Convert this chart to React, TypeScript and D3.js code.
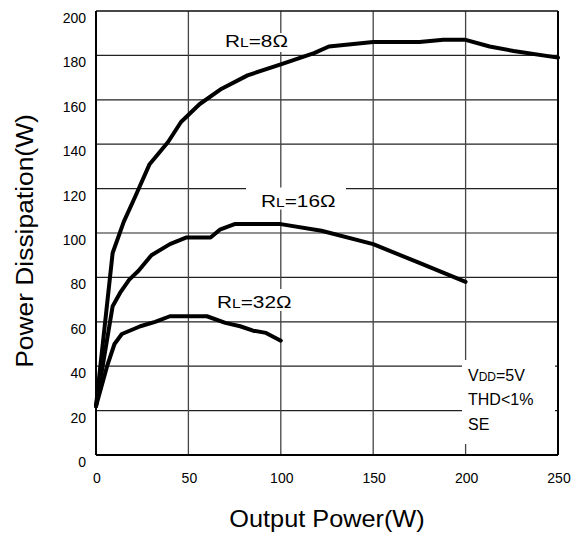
import React from "react";
import * as d3 from "d3";

const xTicks = [0, 50, 100, 150, 200, 250];
const yTicks = [0, 20, 40, 60, 80, 100, 120, 140, 160, 180, 200];

const rl8X = [0, 9, 15, 21, 29, 39, 46, 56, 68, 82, 100, 118, 126, 150, 175, 188, 200, 213, 226, 250];
const rl8Y = [22, 91, 105, 116, 131, 141, 150, 158, 165, 171, 176, 181, 184, 186, 186, 187, 187, 184, 182, 179];

const rl16X = [0, 9, 13, 18, 23, 30, 40, 49, 62, 67, 75, 100, 122, 150, 175, 200];
const rl16Y = [22, 67, 73, 79, 83, 90, 95, 98, 98, 101.5, 104, 104, 101, 95, 86.5, 78];

const rl32X = [0, 6, 10, 14, 24, 32, 40, 60, 70, 78, 85, 92, 100];
const rl32Y = [22, 40, 50, 54.5, 58, 60, 62.5, 62.5, 59.5, 58, 56, 55, 51.5];

const seriesNames = ["8Ω", "16Ω", "32Ω"];

const W = 579;
const H = 536;
const L = 96, R = 558, T = 11, B = 455;

export default function App() {
  const x = d3.scaleLinear().domain([0, 250]).range([L, R]);
  const y = d3.scaleLinear().domain([0, 200]).range([B, T]);
  const line = d3
    .line<[number, number]>()
    .x((d) => x(d[0]))
    .y((d) => y(d[1]))
    .curve(d3.curveLinear);

  const series = [
    rl8X.map((v, i) => [v, rl8Y[i]] as [number, number]),
    rl16X.map((v, i) => [v, rl16Y[i]] as [number, number]),
    rl32X.map((v, i) => [v, rl32Y[i]] as [number, number]),
  ];

  const font = "Arial, 'Liberation Sans', sans-serif";

  const rlLabel = (name: string, px: number, py: number, sx: number) => (
    <g transform={`translate(${px},${py}) scale(${sx},1)`}>
      <text x={0} y={0} fontSize={16} fontFamily={font} fill="#000">
        R<tspan fontSize={12}>L</tspan>={name}
      </text>
    </g>
  );

  return (
    <svg
      width={W}
      height={H}
      style={{ position: "absolute", left: 0, top: 0, background: "#fff" }}
    >
      <rect x={0} y={0} width={W} height={H} fill="#fff" />
      {yTicks.map((t) => (
        <line key={"h" + t} x1={L} x2={R} y1={y(t)} y2={y(t)} stroke="#222" strokeWidth={1.2} />
      ))}
      {xTicks.map((t) => (
        <line key={"v" + t} x1={x(t)} x2={x(t)} y1={T} y2={B} stroke="#444" strokeWidth={1.3} />
      ))}
      <rect x={224} y={33} width={68} height={19} fill="#fff" />
      <rect x={246} y={187.5} width={100} height={22} fill="#fff" />
      <rect x={215} y={289} width={69} height={22} fill="#fff" />
      <rect x={462} y={360} width={93} height={84} fill="#fff" />
      <line x1={L} x2={L} y1={T} y2={B} stroke="#000" strokeWidth={2} />
      <line x1={L} x2={R} y1={B} y2={B} stroke="#000" strokeWidth={2} />
      <line x1={R} x2={R} y1={T} y2={B} stroke="#000" strokeWidth={2} />
      <line x1={L} x2={R} y1={T} y2={T} stroke="#000" strokeWidth={1.2} />
      {series.map((s, i) => (
        <path
          key={seriesNames[i]}
          d={line(s) || ""}
          fill="none"
          stroke="#000"
          strokeWidth={4}
          strokeLinejoin="round"
          strokeLinecap="round"
        />
      ))}
      {yTicks.map((t) => (
        <text key={"yl" + t} x={86} y={y(t) + 12} fontSize={14} textAnchor="end" fontFamily={font} fill="#000">
          {t}
        </text>
      ))}
      {xTicks.map((t) => (
        <text key={"xl" + t} x={x(t) + 1} y={483} fontSize={14} textAnchor="middle" fontFamily={font} fill="#000">
          {t}
        </text>
      ))}
      {rlLabel(seriesNames[0], 225, 47, 1.3)}
      {rlLabel(seriesNames[1], 261, 207, 1.3)}
      {rlLabel(seriesNames[2], 217, 308, 1.3)}
      <text x={468} y={381} fontSize={16} fontFamily={font} fill="#000">
        V<tspan fontSize={12}>DD</tspan>=5V
      </text>
      <text x={468} y={405} fontSize={16} fontFamily={font} fill="#000">
        THD&lt;1%
      </text>
      <text x={468} y={430} fontSize={16} fontFamily={font} fill="#000">
        SE
      </text>
      <g transform={`translate(${(L + R) / 2},527) scale(1.1,1)`}>
        <text x={0} y={0} fontSize={23} textAnchor="middle" fontFamily={font} fill="#000">
          Output Power(W)
        </text>
      </g>
      <g transform={`translate(33,241) rotate(-90) scale(1.1,1)`}>
        <text x={0} y={0} fontSize={24} textAnchor="middle" fontFamily={font} fill="#000">
          Power Dissipation(W)
        </text>
      </g>
    </svg>
  );
}
